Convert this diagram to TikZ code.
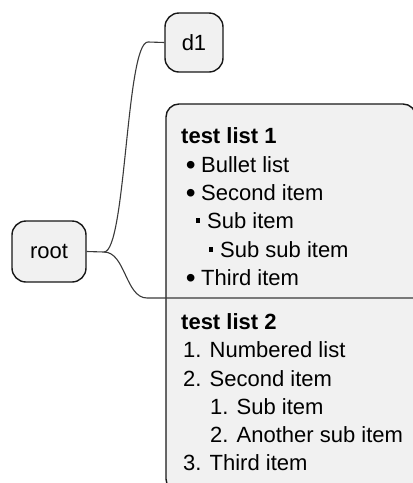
\documentclass[tikz,border=0pt]{standalone}
\usepackage{fontspec}
\setmainfont{Liberation Sans}
\usepackage{xcolor}
\usepackage{tikz}
\usetikzlibrary{positioning}
\definecolor{boxfill}{HTML}{F1F1F1}
\definecolor{boxline}{HTML}{181818}
\definecolor{wire}{HTML}{3A3A3A}
\newcommand{\dotbul}{\llap{\makebox[21pt][c]{\fontsize{28}{26}\selectfont\raisebox{-2pt}{•}}}}
\newcommand{\sqbul}{\llap{\makebox[18pt][c]{\rule[5.5pt]{4.5pt}{4.5pt}}}}

\begin{document}
\begin{tikzpicture}[
    x=1pt, y=-1pt,
    idea/.style={
        draw=boxline,
        fill=boxfill,
        line width=1.4pt,
        rounded corners=14pt,
        inner sep=0pt,
        font=\fontsize{22}{26}\selectfont
    },
    entry/.style={anchor=base west, inner sep=0pt, font=\fontsize{22}{26}\selectfont},
    headline/.style={entry, font=\fontsize{22}{26}\selectfont\bfseries},
    wire/.style={draw=wire, line width=1.1pt}
]
\useasboundingbox (0,0) rectangle (413,483);

% Mind map nodes
\node[idea, minimum width=74pt, minimum height=61pt] (root) at (49,251.5) {root};
\node[idea, minimum width=58pt, minimum height=59pt] (d1) at (194,42.5) {d1};
\node[idea, rounded corners=13pt, minimum width=250pt, minimum height=388pt] (lists) at (291,298) {};

% Branches
\coordinate (fork) at (104,252);
\coordinate (up) at (148,42);
\coordinate (down) at (147,298);
\draw[wire] (root.east) -- (fork) .. controls (126,252) and (126,42) .. (up) -- (d1.west);
\draw[wire] (fork) .. controls (125.5,252) and (125.5,298) .. (down) -- (lists.west) -- (lists.east);

% First list
\node[headline] (t1) at (181,143) {test list 1};
\node[entry] (b1) at (201,172) {\dotbul Bullet list};
\node[entry] (b2) at (201,200) {\dotbul Second item};
\node[entry] (b21) at (207,228) {\sqbul Sub item};
\node[entry] (b211) at (220,257) {\sqbul Sub sub item};
\node[entry] (b3) at (201,285) {\dotbul Third item};

% Second list
\node[headline] (t2) at (181,329) {test list 2};
\node[entry] (n1) at (183,357) {1. Numbered list};
\node[entry] (n2) at (183,386) {2. Second item};
\node[entry] (n21) at (210,414) {1. Sub item};
\node[entry] (n22) at (210,442) {2. Another sub item};
\node[entry] (n3) at (183,470) {3. Third item};

\end{tikzpicture}
\end{document}
